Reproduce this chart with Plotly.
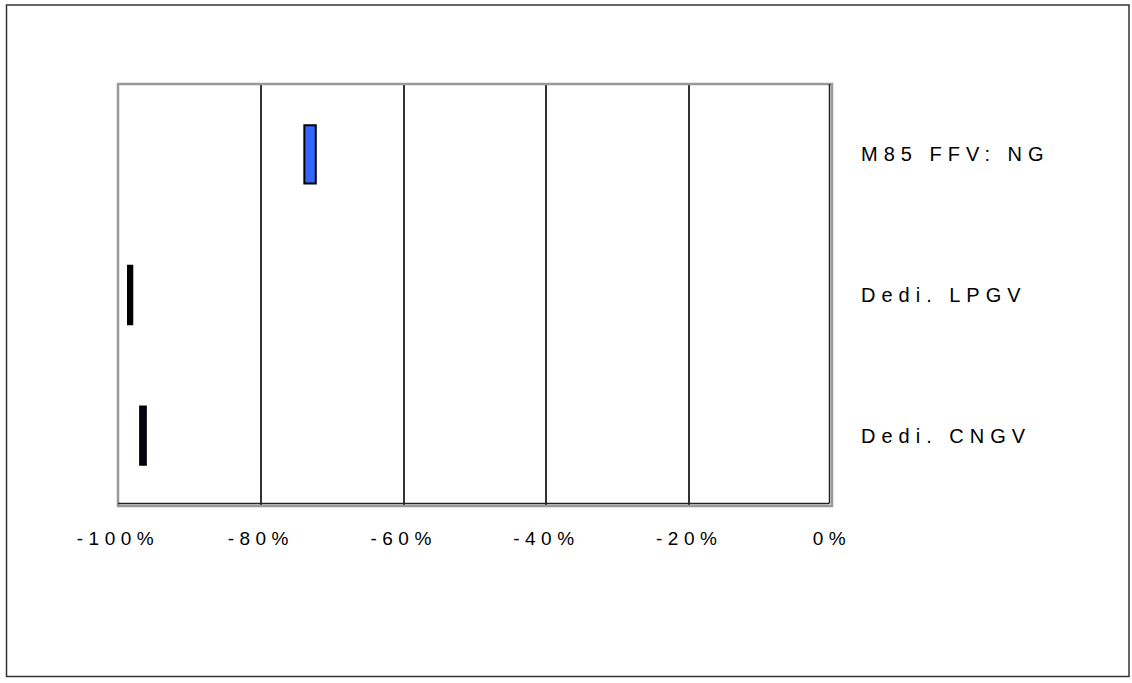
import plotly.graph_objects as go

# Data (percent change)
categories = ["Dedi. CNGV", "Dedi. LPGV", "M85 FFV: NG"]
low_values = [-96.9, -98.6, -73.9]
high_values = [-96.1, -98.0, -72.3]
bar_colors = ["#05051a", "#000000", "#3366ff"]

tick_vals = [-100, -80, -60, -40, -20, 0]
tick_text = ["-100%", "-80%", "-60%", "-40%", "-20%", "0%"]

W, H = 1132, 683
L, R, T, B = 118, 300, 84, 177
pw, ph = W - L - R, H - T - B

fig = go.Figure()
fig.add_trace(go.Bar(
    y=categories,
    base=low_values,
    x=[h - l for l, h in zip(low_values, high_values)],
    orientation="h",
    width=0.415,
    marker=dict(color=bar_colors, line=dict(color="#000000", width=2)),
    showlegend=False,
    hoverinfo="skip",
))

font = dict(family="Liberation Sans, Arial, sans-serif", size=20, color="#000000")
xfont = dict(family="Liberation Sans, Arial, sans-serif", size=19, color="#000000")

fig.update_layout(
    width=W, height=H,
    margin=dict(l=L, r=R, t=T, b=B, pad=0),
    paper_bgcolor="white", plot_bgcolor="white",
    font=font,
    xaxis=dict(
        range=[-100, 0], tickvals=tick_vals, ticktext=tick_text,
        showgrid=True, gridcolor="#333333", gridwidth=1.5,
        zeroline=False, showline=False, ticks="", ticklabelstandoff=19,
        tickfont=xfont, fixedrange=True,
    ),
    yaxis=dict(
        type="category", categoryorder="array", categoryarray=categories,
        range=[-0.5, 2.5], side="right", showgrid=False, zeroline=False,
        showline=False, ticks="", ticklabelstandoff=28, tickfont=font,
        fixedrange=True,
    ),
    shapes=[
        # plot-area frame (gray) with dark inner edge on right/bottom
        dict(type="rect", xref="paper", yref="paper", x0=0, x1=1, y0=0, y1=1,
             line=dict(color="#999999", width=2.5), layer="above"),
        dict(type="line", xref="paper", yref="paper",
             x0=1 - 2.5 / pw, x1=1 - 2.5 / pw, y0=2.5 / ph, y1=1,
             line=dict(color="#222222", width=1.5), layer="above"),
        dict(type="line", xref="paper", yref="paper",
             x0=0, x1=1 - 2.5 / pw, y0=2.5 / ph, y1=2.5 / ph,
             line=dict(color="#222222", width=1.5), layer="above"),
        # outer border
        dict(type="rect", xref="paper", yref="paper",
             x0=(6.5 - L) / pw, x1=(1129 - L) / pw,
             y0=(H - B - 676.5) / ph, y1=(H - B - 5) / ph,
             line=dict(color="#333333", width=1.5), layer="below"),
    ],
)

post = """
(function(){
  document.body.style.margin = '0';
  document.body.style.padding = '0';
  function sp(){
    document.querySelectorAll('.xtick text').forEach(function(t){
      t.style.letterSpacing = '5.5px';
    });
    document.querySelectorAll('.ytick text').forEach(function(t){
      t.style.letterSpacing = '6px';
    });
  }
  sp();
  setTimeout(sp, 0);
  var gd = document.getElementById('{plot_id}');
  if (gd && gd.on) { gd.on('plotly_afterplot', sp); }
})();
"""

fig.write_html("out.html", post_script=post, config={"displayModeBar": False})
